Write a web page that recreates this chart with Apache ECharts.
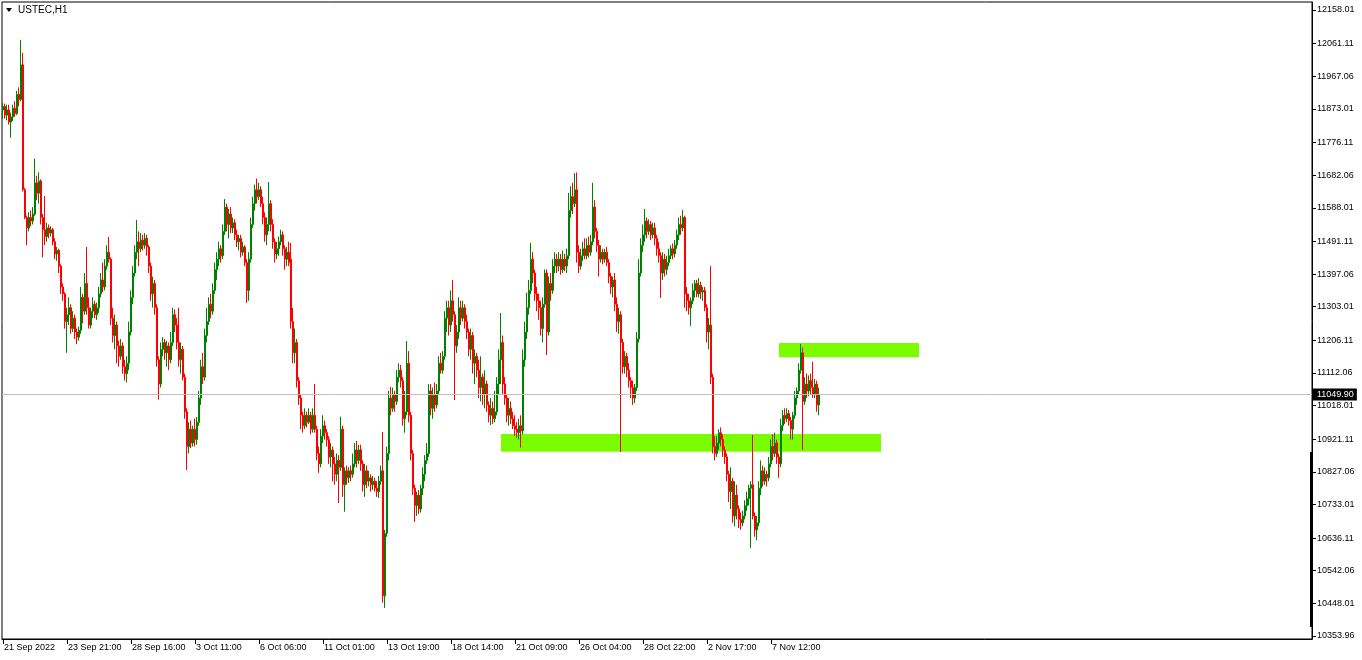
<!DOCTYPE html>
<html>
<head>
<meta charset="utf-8">
<script src="https://cdn.jsdelivr.net/npm/echarts@6/dist/echarts.min.js"></script>
<style>
html,body{margin:0;padding:0;background:#fff;}
#chart{width:1362px;height:660px;}
</style>
</head>
<body>
<div id="chart"></div>
<script>
// ---- data ----
const symbolTitle = 'USTEC,H1';
const timeLabels = ['21 Sep 2022','23 Sep 21:00','28 Sep 16:00','3 Oct 11:00','6 Oct 06:00','11 Oct 01:00','13 Oct 19:00','18 Oct 14:00','21 Oct 09:00','26 Oct 04:00','28 Oct 22:00','2 Nov 17:00','7 Nov 12:00'];
const priceTicks = [12158.01,12061.11,11967.06,11873.01,11776.11,11682.06,11588.01,11491.11,11397.06,11303.01,11206.11,11112.06,11018.01,10921.11,10827.06,10733.01,10636.11,10542.06,10448.01,10353.96];
const priceMin = 10345.31;
const priceMax = 12181.07;
const lastPrice = 11049.90;
const totalSlots = 655;
const labelEvery = 32;
// zones: [startSlot, endSlot, topPrice, bottomPrice]
const upperZone = [388, 458, 11198, 11157];
const lowerZone = [249, 439, 10936, 10885];
// candles: [open, close, low, high]
const bars = [
[11870,11880,11845,11890],[11880,11855,11845,11888],[11855,11870,11840,11885],[11870,11835,11828,11885],[11835,11850,11790,11862],
[11850,11875,11838,11885],[11875,11860,11850,11895],[11860,11915,11855,11925],[11915,11900,11880,11935],[11900,12000,11895,12072],
[12000,11640,11635,12035],[11640,11560,11555,11645],[11560,11530,11480,11565],[11530,11560,11520,11575],[11560,11550,11535,11580],
[11550,11570,11540,11590],[11570,11660,11565,11730],[11660,11630,11610,11680],[11630,11665,11600,11690],[11665,11560,11540,11670],
[11560,11525,11445,11570],[11525,11505,11480,11622],[11505,11530,11490,11545],[11530,11515,11500,11540],[11515,11525,11505,11535],
[11525,11490,11480,11530],[11490,11455,11440,11500],[11455,11465,11435,11475],[11465,11420,11400,11470],[11420,11360,11340,11425],
[11360,11340,11320,11370],[11340,11260,11240,11345],[11260,11280,11170,11300],[11280,11300,11250,11330],[11300,11240,11225,11310],
[11240,11270,11230,11290],[11270,11230,11210,11280],[11230,11215,11195,11240],[11215,11235,11205,11245],[11235,11330,11225,11360],
[11330,11290,11255,11340],[11290,11370,11280,11400],[11370,11300,11280,11475],[11300,11250,11240,11330],[11250,11290,11240,11300],
[11290,11310,11270,11330],[11310,11280,11270,11320],[11280,11300,11265,11315],[11300,11340,11285,11360],[11340,11380,11330,11400],
[11380,11360,11345,11430],[11360,11420,11350,11440],[11420,11460,11410,11480],[11460,11440,11430,11504],[11440,11270,11250,11445],
[11270,11220,11200,11300],[11220,11250,11180,11280],[11250,11190,11140,11260],[11190,11160,11130,11205],[11160,11190,11150,11210],
[11190,11130,11110,11200],[11130,11110,11090,11150],[11110,11140,11085,11160],[11140,11230,11120,11260],[11230,11330,11220,11350],
[11330,11400,11310,11420],[11400,11460,11390,11480],[11460,11490,11440,11553],[11490,11470,11420,11520],[11470,11495,11460,11515],
[11495,11480,11465,11510],[11480,11500,11470,11515],[11500,11475,11450,11510],[11475,11420,11400,11480],[11420,11340,11320,11430],
[11340,11370,11300,11390],[11370,11300,11280,11380],[11300,11150,11130,11310],[11150,11080,11035,11160],[11080,11180,11070,11200],
[11180,11200,11160,11215],[11200,11170,11150,11210],[11170,11190,11130,11205],[11190,11150,11120,11200],[11150,11200,11140,11230],
[11200,11280,11190,11300],[11280,11250,11230,11295],[11250,11200,11180,11270],[11200,11150,11130,11300],[11150,11180,11110,11200],
[11180,11100,11090,11190],[11100,11000,10980,11110],[11000,10900,10832,11010],[10900,10950,10880,10970],[10950,10910,10895,10975],
[10910,10950,10900,10960],[10950,10920,10900,10980],[10920,10970,10905,10985],[10970,11040,10960,11060],[11040,11130,11020,11150],
[11130,11100,11080,11170],[11100,11220,11090,11240],[11220,11260,11200,11300],[11260,11310,11250,11330],[11310,11290,11270,11340],
[11290,11350,11280,11370],[11350,11410,11340,11430],[11410,11440,11380,11460],[11440,11470,11420,11490],[11470,11450,11430,11480],
[11450,11520,11440,11540],[11520,11590,11510,11613],[11590,11540,11520,11600],[11540,11570,11500,11585],[11570,11530,11515,11590],
[11530,11545,11515,11560],[11545,11510,11495,11555],[11510,11490,11475,11525],[11490,11500,11465,11510],[11500,11460,11445,11510],
[11460,11475,11450,11490],[11475,11430,11420,11480],[11430,11350,11314,11440],[11350,11440,11320,11460],[11440,11540,11430,11560],
[11540,11600,11530,11620],[11600,11640,11580,11655],[11640,11620,11600,11672],[11620,11640,11610,11660],[11640,11600,11590,11650],
[11600,11560,11540,11620],[11560,11510,11490,11575],[11510,11540,11480,11560],[11540,11600,11520,11662],[11600,11540,11520,11610],
[11540,11490,11470,11555],[11490,11455,11430,11500],[11455,11470,11440,11490],[11470,11490,11450,11505],[11490,11510,11480,11525],
[11510,11470,11450,11520],[11470,11440,11410,11480],[11440,11460,11420,11475],[11460,11430,11420,11490],[11440,11260,11240,11487],
[11260,11170,11140,11300],[11170,11200,11140,11240],[11200,11090,11070,11210],[11090,11040,11020,11100],[11040,10990,10950,11050],
[10990,10960,10940,11000],[10960,10990,10950,11010],[10990,10970,10955,11000],[10970,10990,10965,11010],[10990,10950,10935,11000],
[10950,10990,10940,11010],[10990,10950,10940,11080],[10950,10880,10860,10960],[10880,10850,10824,10900],[10850,10930,10840,10950],
[10930,10960,10910,10990],[10960,10940,10920,10975],[10940,10920,10900,10950],[10920,10870,10850,10930],[10870,10890,10840,10910],
[10890,10850,10800,10900],[10850,10820,10790,10870],[10820,10860,10800,10880],[10860,10840,10737,10875],[10840,10950,10830,10986],
[10950,10790,10755,10960],[10790,10830,10712,10840],[10830,10810,10790,10845],[10810,10830,10795,10840],[10830,10820,10800,10845],
[10820,10850,10810,10880],[10850,10890,10840,10910],[10890,10860,10840,10916],[10860,10890,10850,10905],[10890,10850,10830,10905],
[10850,10790,10770,10860],[10790,10830,10755,10850],[10830,10800,10780,10845],[10800,10810,10785,10830],[10810,10790,10770,10820],
[10790,10800,10775,10815],[10800,10780,10770,10810],[10780,10770,10755,10800],[10770,10800,10752,10815],[10800,10830,10790,10845],
[10830,10470,10450,10942],[10470,10650,10435,10660],[10650,10880,10640,10900],[10880,11040,10860,11060],[11040,11010,10990,11072],
[11010,11050,11000,11070],[11050,11030,11000,11060],[11030,11100,11020,11120],[11100,11120,11085,11140],[11120,11090,11070,11135],
[11090,10980,10960,11100],[10980,11000,10940,11060],[11000,11140,10990,11204],[11140,10990,10970,11175],[10990,10880,10860,11000],
[10880,10780,10760,10890],[10780,10730,10683,10790],[10730,10760,10700,10770],[10760,10720,10705,10775],[10720,10780,10710,10790],
[10780,10820,10760,10840],[10820,10860,10800,10875],[10860,10880,10850,10910],[10880,11060,10870,11080],[11060,11010,10990,11080],
[11010,11050,10980,11070],[11050,11020,11000,11085],[11020,11060,11010,11080],[11060,11140,11050,11160],[11140,11120,11110,11170],
[11120,11160,11110,11175],[11160,11270,11150,11290],[11270,11300,11230,11320],[11300,11250,11220,11320],[11250,11320,11230,11350],
[11320,11280,11260,11380],[11280,11190,11034,11290],[11190,11230,11170,11250],[11230,11300,11210,11330],[11300,11270,11250,11320],
[11270,11300,11260,11320],[11300,11260,11240,11310],[11260,11230,11210,11280],[11230,11180,11160,11240],[11180,11220,11150,11240],
[11220,11140,11110,11230],[11140,11160,11080,11180],[11160,11120,11100,11170],[11120,11070,11040,11150],[11070,11100,11030,11160],
[11100,11050,11020,11110],[11050,11080,11010,11120],[11080,11020,11000,11090],[11020,10990,10970,11030],[10990,11010,10962,11040],
[11010,10980,10965,11030],[10980,11000,10970,11060],[11000,11080,10990,11100],[11080,11150,11050,11180],[11150,11200,11080,11285],
[11200,11080,11050,11220],[11080,11040,11020,11100],[11040,10990,10970,11050],[10990,11010,10960,11040],[11010,10980,10965,11030],
[10980,10960,10950,11000],[10960,10950,10930,10990],[10950,10940,10925,10970],[10940,10960,10920,10980],[10960,10945,10897,10990],
[10945,11150,10935,11180],[11150,11230,11130,11260],[11230,11300,11210,11343],[11300,11350,11280,11380],[11350,11440,11340,11487],
[11440,11400,11370,11460],[11400,11340,11320,11410],[11340,11320,11290,11360],[11320,11300,11265,11340],[11300,11240,11220,11320],
[11240,11310,11200,11330],[11310,11400,11300,11410],[11400,11230,11164,11410],[11230,11370,11220,11390],[11370,11350,11320,11400],
[11350,11420,11340,11440],[11420,11440,11400,11460],[11440,11420,11400,11455],[11420,11440,11405,11460],[11440,11410,11395,11455],
[11410,11440,11400,11465],[11440,11420,11405,11455],[11420,11450,11400,11470],[11450,11580,11440,11631],[11580,11620,11560,11650],
[11620,11600,11570,11660],[11600,11640,11590,11688],[11640,11460,11430,11690],[11460,11420,11400,11480],[11420,11450,11410,11470],
[11450,11470,11435,11490],[11470,11450,11440,11500],[11450,11480,11440,11500],[11480,11460,11445,11505],[11460,11490,11450,11510],
[11490,11590,11480,11660],[11590,11520,11500,11610],[11520,11480,11460,11530],[11480,11440,11390,11495],[11440,11460,11430,11480],
[11460,11440,11425,11470],[11440,11460,11430,11470],[11460,11430,11420,11475],[11430,11390,11370,11440],[11390,11360,11340,11400],
[11360,11380,11330,11390],[11380,11310,11290,11400],[11310,11260,11230,11330],[11260,11280,11225,11300],[11280,11200,10884,11290],
[11200,11130,11110,11210],[11130,11160,11110,11175],[11160,11120,11100,11170],[11120,11090,11070,11140],[11090,11070,11040,11100],
[11070,11040,11020,11090],[11040,11070,11025,11080],[11070,11210,11060,11230],[11210,11400,11200,11440],[11400,11480,11390,11500],
[11480,11510,11460,11540],[11510,11550,11490,11585],[11550,11520,11500,11560],[11520,11540,11510,11555],[11540,11510,11495,11550],
[11510,11530,11500,11545],[11530,11500,11480,11545],[11500,11470,11450,11510],[11470,11450,11430,11490],[11450,11400,11328,11460],
[11400,11440,11380,11460],[11440,11410,11390,11455],[11410,11430,11395,11450],[11430,11450,11420,11470],[11450,11470,11440,11480],
[11470,11455,11440,11485],[11455,11480,11445,11495],[11480,11510,11470,11525],[11510,11540,11495,11560],[11540,11530,11510,11565],
[11530,11560,11520,11582],[11560,11340,11300,11565],[11340,11320,11290,11360],[11320,11300,11280,11340],[11300,11320,11247,11330],
[11320,11350,11310,11370],[11350,11370,11330,11380],[11370,11340,11330,11380],[11340,11365,11330,11385],[11365,11345,11325,11375],
[11345,11350,11320,11360],[11350,11300,11290,11360],[11300,11230,11200,11310],[11230,11250,11180,11270],[11250,11100,11080,11420],
[11100,10900,10880,11110],[10900,10880,10860,10930],[10880,10910,10870,10930],[10910,10940,10890,10950],[10940,10920,10900,10955],
[10920,10890,10870,10935],[10890,10870,10850,10900],[10870,10820,10800,10880],[10820,10770,10740,10830],[10770,10800,10720,10840],
[10800,10700,10680,10810],[10700,10760,10670,10800],[10760,10720,10690,10790],[10720,10690,10665,10730],[10690,10680,10660,10710],
[10680,10700,10670,10715],[10700,10730,10690,10745],[10730,10750,10715,10770],[10750,10780,10730,10790],[10780,10790,10608,10800],
[10790,10700,10690,10933],[10700,10660,10640,10710],[10660,10680,10630,10700],[10680,10780,10670,10800],[10780,10830,10760,10860],
[10830,10800,10785,10845],[10800,10820,10790,10840],[10820,10810,10785,10830],[10810,10850,10800,10870],[10850,10900,10840,10920],
[10900,10880,10860,10935],[10880,10910,10870,10940],[10910,10870,10850,10920],[10870,10850,10810,10880],[10850,10960,10840,10980],
[10960,10990,10945,11005],[10990,10980,10965,11010],[10980,10995,10970,11010],[10995,10975,10960,11005],[10975,10950,10920,10985],
[10950,10990,10920,11000],[10990,11040,10980,11060],[11040,11060,11020,11070],[11060,11120,11050,11140],[11120,11170,11110,11196],
[11170,11030,10890,11185],[11030,11080,11020,11100],[11080,11060,11040,11110],[11060,11090,11045,11105],[11090,11070,11050,11110],
[11070,11050,11040,11144],[11050,11080,11040,11095],[11080,11020,11000,11090],[11020,11049.9,10990,11070]
];

const slots = Array.from({length: totalSlots}, (_, i) => String(i));
const showLabel = (idx) => idx % labelEvery === 0 && idx / labelEvery < timeLabels.length;

const chart = echarts.init(document.getElementById('chart'), null, {renderer: 'canvas'});
const FONT = 'Liberation Sans, Arial, sans-serif';

chart.setOption({
  animation: false,
  backgroundColor: '#ffffff',
  grid: {left: 2, right: 50, top: 2, bottom: 21, show: true, borderColor: '#000', borderWidth: 1, backgroundColor: '#fff'},
  xAxis: {
    type: 'category',
    data: slots,
    boundaryGap: true,
    axisLine: {show: true, lineStyle: {color: '#000', width: 1}},
    axisTick: {show: true, interval: (i) => showLabel(i), alignWithLabel: true, length: 5, lineStyle: {color: '#000'}},
    axisLabel: {
      interval: (i) => showLabel(i),
      formatter: (v, i) => showLabel(i) ? timeLabels[i / labelEvery] : '',
      align: 'left', margin: 4, color: '#000', fontSize: 9, fontFamily: FONT, padding: [0, 0, 0, 1]
    },
    splitLine: {show: false}
  },
  yAxis: {
    type: 'value',
    position: 'right',
    min: priceMin,
    max: priceMax,
    axisLine: {show: true, lineStyle: {color: '#000', width: 1}},
    axisTick: {show: true, customValues: priceTicks, length: 4, lineStyle: {color: '#000'}},
    axisLabel: {customValues: priceTicks, formatter: (v) => v.toFixed(2), margin: 5, color: '#000', fontSize: 9, fontFamily: FONT},
    splitLine: {show: false}
  },
  series: [{
    type: 'candlestick',
    data: bars,
    barWidth: 1.4,
    large: false,
    progressive: 0,
    itemStyle: {color: '#008000', color0: '#ff0000', borderColor: '#008000', borderColor0: '#ff0000', borderWidth: 1},
    silent: true,
    markArea: {
      silent: true,
      itemStyle: {color: '#7cfc00', opacity: 1},
      data: [
        [{xAxis: String(lowerZone[0]), yAxis: lowerZone[2]}, {xAxis: String(lowerZone[1]), yAxis: lowerZone[3]}],
        [{xAxis: String(upperZone[0]), yAxis: upperZone[2]}, {xAxis: String(upperZone[1]), yAxis: upperZone[3]}]
      ]
    },
    markLine: {
      silent: true,
      symbol: 'none',
      lineStyle: {color: '#c0c0c0', type: 'solid', width: 1},
      label: {
        show: true, position: 'end', distance: 1, formatter: lastPrice.toFixed(2),
        backgroundColor: '#000', color: '#fff', fontSize: 9, fontFamily: FONT, padding: [2, 3, 1, 4]
      },
      data: [{yAxis: lastPrice}]
    },
    z: 3
  }],
  graphic: [
    {type: 'polygon', shape: {points: [[6, 8], [12, 8], [9, 12]]}, style: {fill: '#000'}},
    {type: 'text', x: 18, y: 10, style: {text: symbolTitle, fill: '#000', font: '10px ' + FONT, verticalAlign: 'middle'}},
    {type: 'rect', shape: {x: 1310, y: 452, width: 3, height: 175}, style: {fill: '#000'}}
  ]
});
</script>
</body>
</html>
